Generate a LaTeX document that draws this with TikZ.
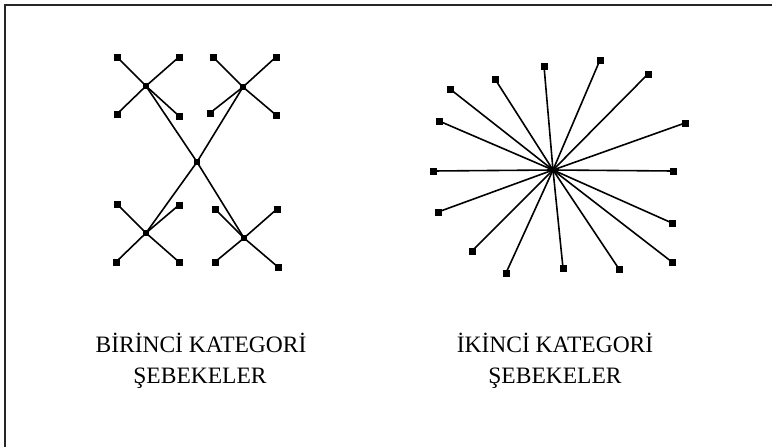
\documentclass[tikz,border=0pt]{standalone}
\usepackage{fontspec}
\setmainfont{Liberation Serif}
\usetikzlibrary{positioning}
\tikzset{
  leaf/.style={fill=black,inner sep=0pt,minimum size=7pt},
  hub/.style={fill=black,inner sep=0pt,minimum size=6pt},
  link/.style={line width=1.6pt},
  caption/.style={anchor=base,font=\fontsize{23.5}{31}\selectfont}
}

\begin{document}
\begin{tikzpicture}[
  x=1pt,y=-1pt
]%
  \useasboundingbox (0,0) rectangle (772,447);

  % Frame
  \draw[black!85,line width=1.3pt] (5,447) -- (5,5) -- (772,5);

  % First category: hubs
  \node[hub] (mid) at (197,162) {};
  \foreach \name/\x/\y in {tl/146/86, tr/243/87, bl/146/233, br/244/238}
    \node[hub] (\name) at (\x,\y) {};

  % First category: leaves
  \foreach \name/\x/\y in {tl1/117/57, tl2/179/57, tl3/117/114, tl4/179/116,
                          tr1/213/57, tr2/276/57, tr3/210/113, tr4/276/115,
                          bl1/117/204, bl2/179/205, bl3/116/262, bl4/179/262,
                          br1/215/209, br2/277/209, br3/215/262, br4/278/267}
    \node[leaf] (\name) at (\x,\y) {};

  % First category: links
  \foreach \h in {tl,tr,bl,br}
    \draw[link] (mid.center) -- (\h.center);
  \foreach \h in {tl,tr,bl,br}
    \foreach \i in {1,...,4}
      \draw[link] (\h.center) -- (\h\i.center);

  % Second category: star
  \coordinate (star) at (553,170);
  \foreach \i/\x/\y in {1/544/66, 2/600/60, 3/648/74, 4/685/123,
                        5/673/171, 6/672/223, 7/672/262, 8/619/269,
                        9/563/268, 10/506/273, 11/472/251, 12/438/212,
                        13/433/171, 14/439/121, 15/450/89, 16/495/79}
  {
    \node[leaf] (s\i) at (\x,\y) {};
    \draw[link] (star) -- (s\i.center);
  }

  % Captions
  \node[caption] (cap1a) at (201,352) {BİRİNCİ KATEGORİ};
  \node[caption] (cap1b) at (200,383) {ŞEBEKELER};
  \node[caption] (cap2a) at (555,352) {İKİNCİ KATEGORİ};
  \node[caption] (cap2b) at (555,383) {ŞEBEKELER};
\end{tikzpicture}
\end{document}
